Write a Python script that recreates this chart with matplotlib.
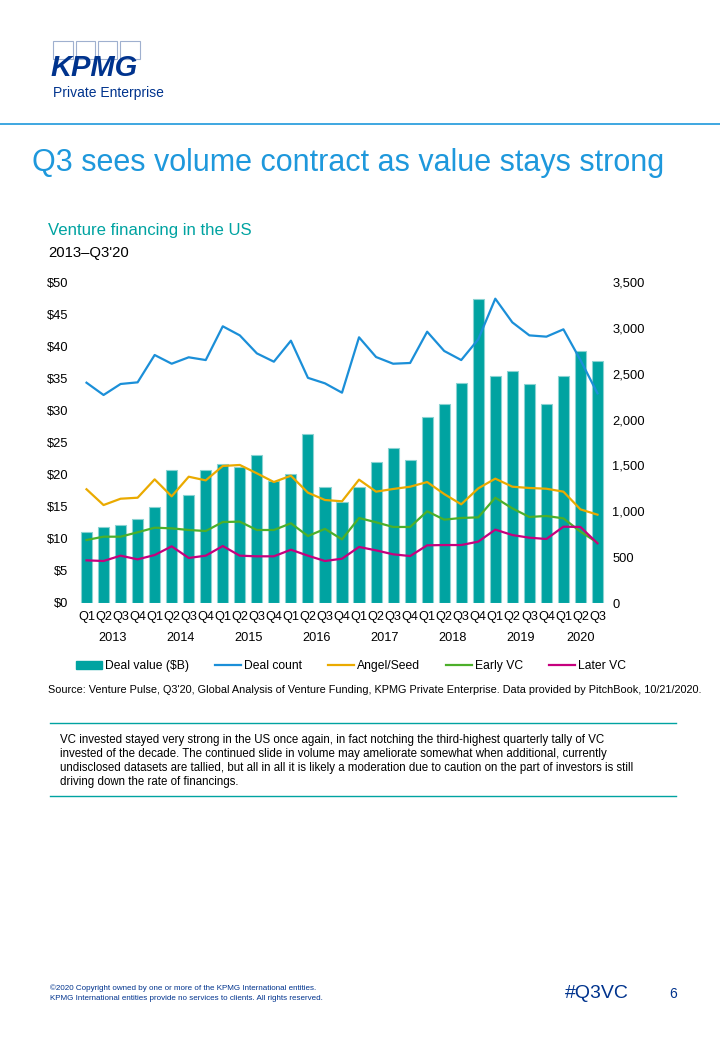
import matplotlib
matplotlib.use("Agg")
import matplotlib.pyplot as plt
from matplotlib.patches import Rectangle, Patch
from matplotlib.lines import Line2D
from matplotlib.ticker import FuncFormatter, MultipleLocator
import numpy as np

plt.rcParams['font.family'] = ['Liberation Sans', 'DejaVu Sans']

# ---------------- data ----------------
years = ["2013", "2014", "2015", "2016", "2017", "2018", "2019", "2020"]
quarters = ["Q1", "Q2", "Q3", "Q4"] * 7 + ["Q1", "Q2", "Q3"]

deal_value = [11.0, 11.9, 12.1, 13.1, 15.0, 20.7, 16.9, 20.7,
              21.7, 21.2, 23.0, 19.0, 20.1, 26.3, 18.0, 15.7,
              18.0, 22.0, 24.1, 22.3, 28.9, 31.0, 34.2, 47.4,
              35.4, 36.1, 34.1, 31.0, 35.3, 39.2, 37.7]
deal_count = [2402, 2268, 2388, 2406, 2704, 2609, 2679, 2649,
              3017, 2918, 2722, 2631, 2860, 2455, 2395, 2293,
              2897, 2682, 2609, 2617, 2958, 2748, 2649, 2875,
              3318, 3060, 2918, 2904, 2984, 2649, 2286]
angel_seed = [1240, 1068, 1137, 1148, 1348, 1163, 1377, 1337,
              1494, 1505, 1414, 1319, 1388, 1203, 1123, 1109,
              1345, 1214, 1243, 1268, 1319, 1188, 1076, 1250,
              1356, 1268, 1254, 1246, 1214, 1021, 963]
early_vc = [687, 723, 723, 771, 821, 814, 796, 785,
            883, 887, 796, 796, 869, 730, 808, 694,
            927, 880, 829, 829, 1000, 909, 927, 934,
            1148, 1032, 938, 949, 923, 778, 658]
later_vc = [465, 458, 516, 476, 523, 618, 491, 516,
            621, 516, 509, 509, 581, 516, 458, 483,
            611, 574, 531, 512, 629, 632, 632, 669,
            800, 741, 712, 698, 832, 829, 651]

series_labels = ["Deal value ($B)", "Deal count", "Angel/Seed", "Early VC", "Later VC"]

# ---------------- colours ----------------
TEAL = "#00A3A1"
TEAL_EDGE = "#8AD3D2"
BLUE = "#1B8FD8"
ORANGE = "#EAAA00"
GREEN = "#4CAF2A"
MAGENTA = "#C6007E"
DARKBLUE = "#00338D"
TITLEBLUE = "#1E98DC"

W, H = 720, 1040
fig = plt.figure(figsize=(W / 100, H / 100), dpi=100)
fig.patch.set_facecolor("white")


def fx(x):
    return x / W


def fy(y):
    return 1 - y / H


# ---------------- header / logo ----------------
for x0 in [53, 75.5, 98, 120.5]:
    fig.add_artist(Rectangle((fx(x0), fy(59)), 19.5 / W, 18 / H,
                             transform=fig.transFigure, fill=False,
                             edgecolor="#9FB0CF", lw=0.8))
fig.text(fx(50), fy(68), "KPMG", fontsize=21, fontweight="bold", fontstyle="italic",
         color=DARKBLUE, ha="left", va="center")
fig.text(fx(53), fy(93.5), "Private Enterprise", fontsize=10, color=DARKBLUE,
         ha="left", va="center")

fig.add_artist(Line2D([0, 1], [fy(124), fy(124)], transform=fig.transFigure,
                      color=TITLEBLUE, lw=1.2))

fig.text(fx(32), fy(163), "Q3 sees volume contract as value stays strong", fontsize=22,
         color=TITLEBLUE, ha="left", va="center", fontweight="light")

fig.text(fx(48), fy(230), "Venture financing in the US", fontsize=12.1, color=TEAL,
         ha="left", va="center")
fig.text(fx(48), fy(253), "2013\u2013Q3'20", fontsize=10.7, color="black",
         ha="left", va="center")

# ---------------- chart ----------------
ax = fig.add_axes([fx(78), fy(603), (606 - 78) / W, (603 - 282) / H])
ax2 = ax.twinx()
x = np.arange(len(deal_value))

ax.bar(x, deal_value, width=0.65, color=TEAL, edgecolor=TEAL_EDGE, linewidth=0.8, zorder=2)
ax.set_ylim(0, 50)
ax.set_xlim(-0.5, len(x) - 0.5)
ax.yaxis.set_major_locator(MultipleLocator(5))
ax.yaxis.set_major_formatter(FuncFormatter(lambda v, p: f"${v:.0f}"))

ax2.plot(x, deal_count, color=BLUE, lw=1.6, zorder=3)
ax2.plot(x, angel_seed, color=ORANGE, lw=1.6, zorder=3)
ax2.plot(x, early_vc, color=GREEN, lw=1.6, zorder=3)
ax2.plot(x, later_vc, color=MAGENTA, lw=1.6, zorder=3)
ax2.set_ylim(0, 3500)
ax2.yaxis.set_major_locator(MultipleLocator(500))
ax2.yaxis.set_major_formatter(FuncFormatter(lambda v, p: f"{v:,.0f}"))

for a in (ax, ax2):
    for s in a.spines.values():
        s.set_visible(False)
    a.tick_params(length=0, labelsize=9.3, colors="black")
ax.tick_params(axis="y", pad=7)
ax2.tick_params(axis="y", pad=4.5)
ax.set_xticks(x)
ax.set_xticklabels(quarters, fontsize=9.2)
ax.tick_params(axis="x", pad=6)

# year labels centred under each group
for i, yr in enumerate(years):
    n = 4 if i < len(years) - 1 else 3
    cx = i * 4 + (n - 1) / 2
    ax.annotate(yr, xy=(cx, 0), xycoords=("data", "axes fraction"),
                xytext=(0, -25.5), textcoords="offset points",
                ha="center", va="center", fontsize=9.2)

# legend
handles = [Patch(facecolor=TEAL, edgecolor=TEAL)] + [
    Line2D([], [], color=c, lw=1.6) for c in (BLUE, ORANGE, GREEN, MAGENTA)]
fig.legend(handles, series_labels, loc="center", bbox_to_anchor=(fx(351), fy(666)),
           ncol=5, frameon=False, fontsize=8.7, handlelength=2.1, handleheight=0.6,
           handletextpad=0.25, columnspacing=2.2)

fig.text(fx(48), fy(690), "Source: Venture Pulse, Q3'20, Global Analysis of Venture Funding, "
         "KPMG Private Enterprise. Data provided by PitchBook, 10/21/2020.",
         fontsize=7.8, ha="left", va="center", color="black")

# ---------------- commentary box ----------------
for yy in (723, 796):
    fig.add_artist(Line2D([fx(50), fx(676)], [fy(yy), fy(yy)], transform=fig.transFigure,
                          color=TEAL, lw=1.0))
para = ["VC invested stayed very strong in the US once again, in fact notching the third-highest quarterly tally of VC",
        "invested of the decade. The continued slide in volume may ameliorate somewhat when additional, currently",
        "undisclosed datasets are tallied, but all in all it is likely a moderation due to caution on the part of investors is still",
        "driving down the rate of financings."]
for i, line in enumerate(para):
    fig.text(fx(60), fy(739.5 + i * 14.2), line, fontsize=8.3, ha="left", va="center")

# ---------------- footer ----------------
fig.text(fx(50), fy(988), "\u00a92020 Copyright owned by one or more of the KPMG International entities.",
         fontsize=5.8, color=DARKBLUE, ha="left", va="center")
fig.text(fx(50), fy(998), "KPMG International entities provide no services to clients. All rights reserved.",
         fontsize=5.8, color=DARKBLUE, ha="left", va="center")
fig.text(fx(565), fy(994), "#Q3VC", fontsize=14, color=DARKBLUE, ha="left", va="center")
fig.text(fx(673), fy(994), "6", fontsize=10, color=DARKBLUE, ha="center", va="center")

fig.savefig("out.png", dpi=100, facecolor="white")
